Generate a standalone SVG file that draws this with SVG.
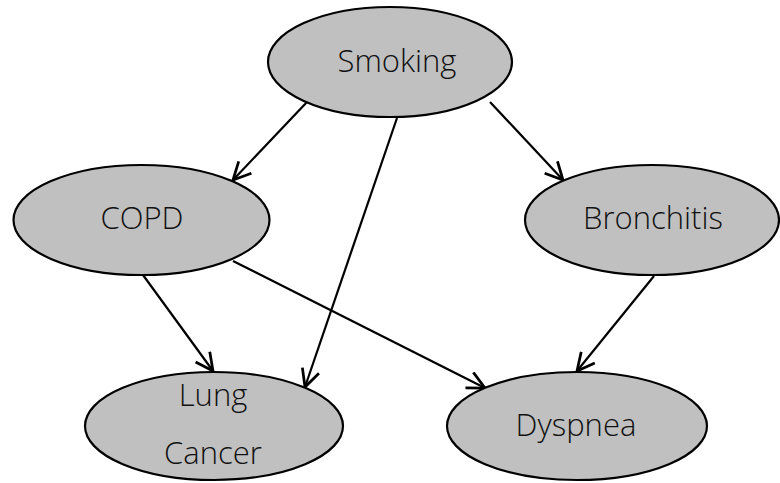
<svg xmlns="http://www.w3.org/2000/svg" width="780" height="483" viewBox="0 0 780 483">
<style>
.node ellipse{fill:#c0c0c0;stroke:#000;stroke-width:2.2}
.node text{font-family:"Open Sans","Noto Sans",sans-serif;font-size:31px;font-weight:300;fill:#111;text-anchor:middle}
.edges line{stroke:#000;stroke-width:2.2;marker-end:url(#arr)}
</style>
<defs>
<marker id="arr" markerUnits="userSpaceOnUse" markerWidth="20" markerHeight="20" viewBox="0 0 16 16" refX="15" refY="8" orient="auto">
<path d="M1,1 L15,8 L1,15" fill="none" stroke="#000" stroke-width="2.2"/>
</marker>
</defs>
<rect width="780" height="483" fill="#fff"/>
<g class="edges">
<line x1="307" y1="102" x2="233" y2="180"/>
<line x1="490" y1="102" x2="563" y2="180"/>
<line x1="397" y1="118" x2="305" y2="387"/>
<line x1="143" y1="275" x2="213" y2="371"/>
<line x1="233" y1="261" x2="485" y2="388"/>
<line x1="654" y1="276" x2="577" y2="371"/>
</g>
<g id="smoking" class="node"><ellipse cx="390" cy="62" rx="122" ry="55"/><text x="397" y="72">Smoking</text></g>
<g id="copd" class="node"><ellipse cx="141.5" cy="220" rx="128" ry="55"/><text x="142" y="229">COPD</text></g>
<g id="bronchitis" class="node"><ellipse cx="652" cy="220" rx="127" ry="55"/><text x="653" y="229">Bronchitis</text></g>
<g id="lungcancer" class="node"><ellipse cx="214" cy="426" rx="129" ry="54"/><text x="213" y="406">Lung</text><text x="213" y="464">Cancer</text></g>
<g id="dyspnea" class="node"><ellipse cx="577" cy="426" rx="130" ry="54"/><text x="576" y="436">Dyspnea</text></g>
</svg>
